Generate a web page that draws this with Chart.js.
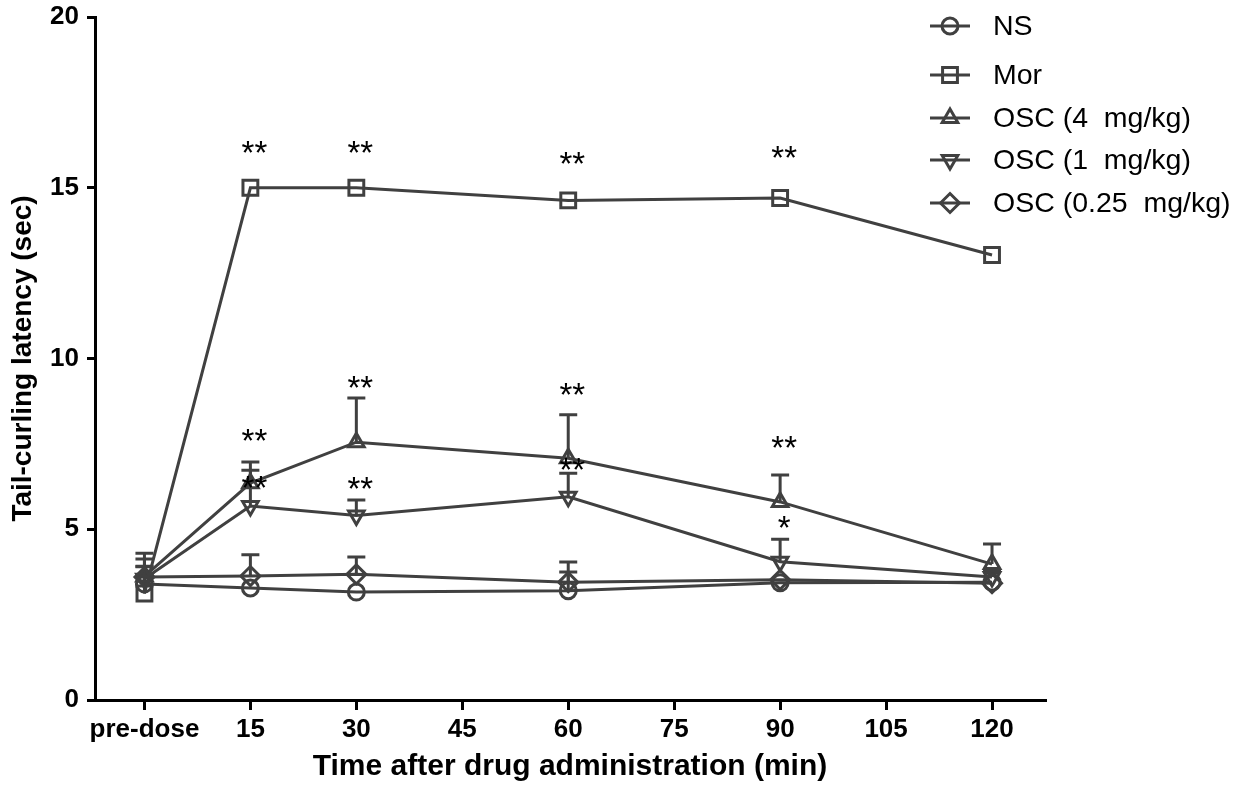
<!DOCTYPE html>
<html lang="en">
<head>
    <meta charset="UTF-8">
    <title>Tail-curling latency</title>
    <style>
        body { margin: 0; padding: 0; background-color: #fff; }
        .chart-container { width: 1241px; height: 785px; position: relative; }
    </style>
    <script src="https://cdn.jsdelivr.net/npm/chart.js"></script>
</head>
<body>
    <div class="chart-container">
        <canvas id="latencyChart"></canvas>
    </div>

    <script>
        // Time points (min), 0 = pre-dose
        const timePoints = [0, 15, 30, 60, 90, 120];
        const xTicks = [0, 15, 30, 45, 60, 75, 90, 105, 120];
        const yTicks = [0, 5, 10, 15, 20];

        // Group labels
        const groupLabels = ['NS', 'Mor', 'OSC (4  mg/kg)', 'OSC (1  mg/kg)', 'OSC (0.25  mg/kg)'];

        // Mean latency (sec)
        const nsMean = [3.40, 3.28, 3.16, 3.20, 3.43, 3.45];
        const morMean = [3.12, 15.0, 15.0, 14.63, 14.70, 13.03];
        const osc4Mean = [3.62, 6.35, 7.55, 7.08, 5.80, 3.98];
        const osc1Mean = [3.55, 5.68, 5.40, 5.95, 4.05, 3.60];
        const osc025Mean = [3.60, 3.63, 3.68, 3.45, 3.52, 3.42];

        // Upper error (SD) for each point
        const nsErr = [0.20, 0, 0, 0.55, 0, 0];
        const morErr = [0.80, 0, 0, 0, 0, 0];
        const osc4Err = [0.68, 0.62, 1.29, 1.27, 0.79, 0.59];
        const osc1Err = [0.58, 1.05, 0.46, 0.69, 0.66, 0.20];
        const osc025Err = [0.30, 0.62, 0.51, 0.59, 0, 0];

        // Significance marks: time, latency level, text
        const sigTimes = [15, 30, 60, 90, 15, 30, 60, 90, 15, 30, 60, 90];
        const sigLevels = [16.1, 16.1, 15.8, 15.95, 7.67, 9.22, 9.02, 7.47, 6.3, 6.27, 6.82, 5.12];
        const sigText = ['**', '**', '**', '**', '**', '**', '**', '**', '**', '**', '**', '*'];

        const lineColor = '#404040';
        const pointStyles = ['circle', 'rect', 'triangle', 'triangle', 'rectRot'];
        const pointRotations = [0, 0, 0, 180, 0];
        const pointSizes = [8, 10.5, 9, 9, 9.5];
        const means = [nsMean, morMean, osc4Mean, osc1Mean, osc025Mean];
        const errs = [nsErr, morErr, osc4Err, osc1Err, osc025Err];

        const datasets = groupLabels.map((label, i) => ({
            label: label,
            data: timePoints.map((t, j) => ({ x: t, y: means[i][j] })),
            borderColor: lineColor,
            borderWidth: 3,
            pointStyle: pointStyles[i],
            rotation: pointRotations[i],
            pointRadius: pointSizes[i],
            pointBorderWidth: 3,
            pointBorderColor: lineColor,
            pointBackgroundColor: 'rgba(0,0,0,0)',
            tension: 0,
            errors: errs[i]
        }));

        // Error bars (upper only), drawn under the markers
        const errorBars = {
            id: 'errorBars',
            beforeDatasetsDraw(chart) {
                const ctx = chart.ctx;
                const xs = chart.scales.x, ys = chart.scales.y;
                ctx.save();
                ctx.strokeStyle = lineColor;
                ctx.lineWidth = 3;
                chart.data.datasets.forEach(ds => {
                    ds.data.forEach((p, j) => {
                        const e = ds.errors[j];
                        if (!e) return;
                        const px = xs.getPixelForValue(p.x);
                        const y0 = ys.getPixelForValue(p.y);
                        const y1 = ys.getPixelForValue(p.y + e);
                        ctx.beginPath();
                        ctx.moveTo(px, y0);
                        ctx.lineTo(px, y1);
                        ctx.moveTo(px - 9, y1);
                        ctx.lineTo(px + 9, y1);
                        ctx.stroke();
                    });
                });
                ctx.restore();
            }
        };

        // Asterisks
        const sigMarks = {
            id: 'sigMarks',
            afterDatasetsDraw(chart) {
                const ctx = chart.ctx;
                const xs = chart.scales.x, ys = chart.scales.y;
                ctx.save();
                ctx.fillStyle = '#000';
                ctx.font = '33px "Liberation Sans", Arial, sans-serif';
                ctx.textAlign = 'center';
                ctx.textBaseline = 'middle';
                sigTimes.forEach((t, i) => {
                    ctx.fillText(sigText[i], xs.getPixelForValue(t) + 4, ys.getPixelForValue(sigLevels[i]) + 5);
                });
                ctx.restore();
            }
        };

        // Legend in the top-right corner
        const legendRows = [26, 75, 118, 160, 203];
        const customLegend = {
            id: 'customLegend',
            afterDraw(chart) {
                const ctx = chart.ctx;
                ctx.save();
                chart.data.datasets.forEach((ds, i) => {
                    const y = legendRows[i];
                    ctx.strokeStyle = lineColor;
                    ctx.lineWidth = 3;
                    ctx.beginPath();
                    ctx.moveTo(930, y);
                    ctx.lineTo(970, y);
                    ctx.stroke();
                    ctx.fillStyle = 'rgba(0,0,0,0)';
                    Chart.helpers.drawPoint(ctx, {
                        pointStyle: ds.pointStyle,
                        rotation: ds.rotation,
                        radius: ds.pointRadius,
                        borderWidth: 3
                    }, 950, y);
                    ctx.fillStyle = '#000';
                    ctx.font = '28.5px "Liberation Sans", Arial, sans-serif';
                    ctx.textAlign = 'left';
                    ctx.textBaseline = 'middle';
                    ctx.fillText(ds.label, 993, y + 1);
                });
                ctx.restore();
            }
        };

        const tickFont = { family: '"Liberation Sans", Arial, sans-serif', size: 26, weight: 'bold' };

        new Chart(document.getElementById('latencyChart').getContext('2d'), {
            type: 'line',
            data: { datasets: datasets },
            options: {
                responsive: true,
                maintainAspectRatio: false,
                animation: false,
                layout: { padding: { top: 17, right: 196, left: 0, bottom: 0 } },
                plugins: {
                    legend: { display: false },
                    tooltip: { enabled: false }
                },
                scales: {
                    x: {
                        type: 'linear',
                        min: -7,
                        max: 127.5,
                        afterBuildTicks: s => { s.ticks = xTicks.map(v => ({ value: v })); },
                        afterFit: s => { s.height = 85; },
                        ticks: {
                            color: '#000',
                            font: tickFont,
                            padding: 4,
                            maxRotation: 0,
                            autoSkip: false,
                            callback: v => v === 0 ? 'pre-dose' : v
                        },
                        grid: { drawOnChartArea: false, drawTicks: true, tickLength: 10, color: '#000', lineWidth: 3 },
                        border: { color: '#000', width: 3 },
                        title: {
                            display: true,
                            text: 'Time after drug administration (min)',
                            color: '#000',
                            font: { family: '"Liberation Sans", Arial, sans-serif', size: 30, weight: 'bold' },
                            padding: { top: 0, bottom: 0 }
                        }
                    },
                    y: {
                        min: 0,
                        max: 20,
                        afterBuildTicks: s => { s.ticks = yTicks.map(v => ({ value: v })); },
                        afterFit: s => { s.width = 95; s.paddingTop = 0; s.paddingBottom = 0; },
                        ticks: { color: '#000', font: tickFont, padding: 8 },
                        grid: { drawOnChartArea: false, drawTicks: true, tickLength: 8, color: '#000', lineWidth: 3 },
                        border: { color: '#000', width: 3 },
                        title: {
                            display: true,
                            text: 'Tail-curling latency (sec)',
                            color: '#000',
                            font: { family: '"Liberation Sans", Arial, sans-serif', size: 28, weight: 'bold' },
                            padding: { top: 6, bottom: 0 }
                        }
                    }
                }
            },
            plugins: [errorBars, sigMarks, customLegend]
        });
    </script>
</body>
</html>
